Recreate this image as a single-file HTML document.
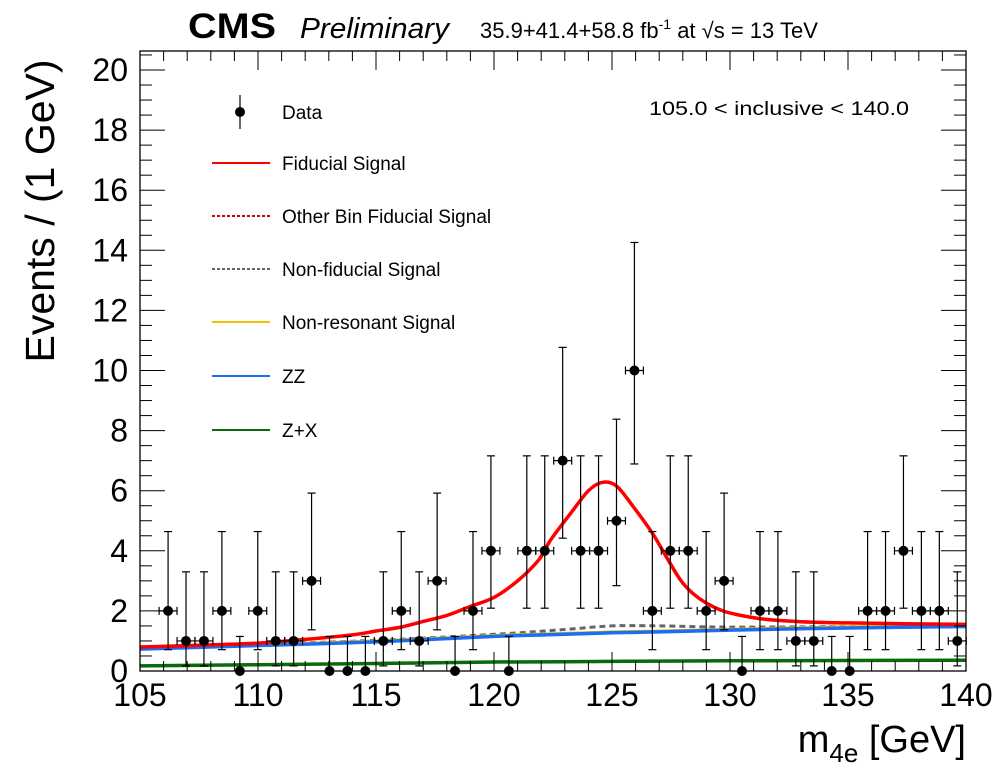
<!DOCTYPE html>
<html><head><meta charset="utf-8"><style>
body{margin:0;background:#fff}
svg{display:block;font-family:"Liberation Sans",sans-serif}
</style></head><body>
<svg id="chart" width="996" height="772" viewBox="0 0 996 772">
<g id="curves"></g>
<g id="dataG"></g>
<rect x="140" y="51" width="826" height="620" fill="none" stroke="#000" stroke-width="1.3"/>
<g id="ticks"></g>
<text x="188" y="38" font-size="35" font-weight="bold" textLength="88" lengthAdjust="spacingAndGlyphs">CMS</text>
<text x="300" y="38" font-size="29" font-style="italic" textLength="149" lengthAdjust="spacingAndGlyphs">Preliminary</text>
<text x="480" y="38" font-size="22">35.9+41.4+58.8 fb<tspan dy="-9" font-size="14">-1</tspan><tspan dy="9"> at √s = 13 TeV</tspan></text>
<text x="909" y="115" font-size="19" text-anchor="end" textLength="260" lengthAdjust="spacingAndGlyphs">105.0  &lt; inclusive &lt; 140.0</text>
<text transform="translate(54,211) rotate(-90)" font-size="41" text-anchor="middle">Events / (1 GeV)</text>
<text x="966" y="752" font-size="38" text-anchor="end">m<tspan font-size="26" dy="10">4e</tspan><tspan dy="-10"> [GeV]</tspan></text>
<g id="legend"></g>
</svg>
<script>
const massPoints=[106.19,106.95,107.71,108.47,109.23,109.99,110.75,111.51,112.27,113.03,113.79,114.55,115.31,116.07,116.83,117.59,118.35,119.11,119.87,120.63,121.39,122.15,122.91,123.67,124.43,125.19,125.95,126.71,127.47,128.23,128.99,129.75,130.51,131.27,132.03,132.79,133.55,134.31,135.07,135.83,136.59,137.35,138.11,138.87,139.63];
const counts=[2,1,1,2,0,2,1,1,3,0,0,0,1,2,1,3,0,2,4,0,4,4,7,4,4,5,10,2,4,4,2,3,0,2,2,1,1,0,0,2,2,4,2,2,1];
const redX=[105,108,110,112,114,115,116,117,118,119,120,121,121.9,122.4,123.3,124,124.6,125.2,125.9,126.7,127.3,127.9,128.4,129,129.7,130.4,131.5,133,135,140];
const redY=[0.8,0.87,0.93,1.05,1.2,1.33,1.45,1.65,1.85,2.15,2.45,3.0,3.7,4.36,5.3,6.0,6.28,6.15,5.47,4.6,3.8,3.03,2.6,2.26,2.0,1.86,1.72,1.64,1.6,1.55];
const bgX=[105,110,115,120,123,125,127,130,135,140];
const zzY=[0.73,0.85,0.97,1.15,1.22,1.27,1.3,1.36,1.43,1.48];
const nonresY=[0.76,0.88,1.0,1.18,1.25,1.3,1.33,1.39,1.47,1.52];
const nonfidY=[0.76,0.89,1.02,1.22,1.38,1.5,1.5,1.46,1.48,1.52];
const zxY=[0.17,0.21,0.25,0.3,0.31,0.32,0.33,0.34,0.35,0.36];
const xTicks=[105,110,115,120,125,130,135,140];
const yTicks=[0,2,4,6,8,10,12,14,16,18,20];
const NS='http://www.w3.org/2000/svg';
const X=v=>140+(v-105)*826/35;
const Y=v=>671-v*30.05;
function mk(t,a,p){const e=document.createElementNS(NS,t);for(const k in a)e.setAttribute(k,a[k]);p.appendChild(e);return e;}
const cg=document.getElementById('curves');
function curve(xs,ys,col,w,dash,name){
const P=xs.map((x,i)=>[X(x),Y(ys[i])]);
let d='M'+P[0][0].toFixed(1)+','+P[0][1].toFixed(1);
for(let i=0;i<P.length-1;i++){const p0=P[Math.max(0,i-1)],p1=P[i],p2=P[i+1],p3=P[Math.min(P.length-1,i+2)];
const c1=[p1[0]+(p2[0]-p0[0])/6,p1[1]+(p2[1]-p0[1])/6],c2=[p2[0]-(p3[0]-p1[0])/6,p2[1]-(p3[1]-p1[1])/6];
d+='C'+c1.map(v=>v.toFixed(1))+' '+c2.map(v=>v.toFixed(1))+' '+p2.map(v=>v.toFixed(1));}
const p=mk('path',{d:d,fill:'none',stroke:col,'stroke-width':w},cg);if(dash)p.setAttribute('stroke-dasharray',dash);

}
curve(bgX,zxY,'#0a6b0a',3.5,null,'zx-curve');
curve(bgX,nonfidY,'#666',3,'6,4','nonfiducial-curve');
curve(bgX,nonresY,'#f5c000',3,null,'nonresonant-curve');
curve(bgX,zzY,'#1a6ef5',3.5,null,'zz-curve');
curve(redX,redY,'#f00',3.5,null,'fiducial-signal-curve');
const lo={0:0,1:0.83,2:1.29,3:1.63,4:1.91,5:2.16,7:2.58,10:3.11};
const hi={0:1.15,1:2.3,2:2.64,3:2.92,4:3.16,5:3.38,7:3.77,10:4.26};
const dg=document.getElementById('dataG');
massPoints.forEach((m,i)=>{const n=counts[i];const g=mk('g',{},dg);


const x=X(m);
mk('line',{x1:x,x2:x,y1:Y(n-lo[n]),y2:Y(n+hi[n]),stroke:'#000','stroke-width':1.2},g);
mk('line',{x1:x-4,x2:x+4,y1:Y(n+hi[n]),y2:Y(n+hi[n]),stroke:'#000','stroke-width':1.2},g);
if(n>0){mk('line',{x1:x-4,x2:x+4,y1:Y(n-lo[n]),y2:Y(n-lo[n]),stroke:'#000','stroke-width':1.2},g);
mk('line',{x1:X(m-0.38),x2:X(m+0.38),y1:Y(n),y2:Y(n),stroke:'#000','stroke-width':1.2},g);
[m-0.38,m+0.38].forEach(e=>mk('line',{x1:X(e),x2:X(e),y1:Y(n)-4,y2:Y(n)+4,stroke:'#000','stroke-width':1.2},g));}
mk('circle',{cx:x,cy:Y(n),r:5,fill:'#000'},g);});
const tg=document.getElementById('ticks');
for(let v=105;v<=140;v++){const x=X(v),L=v%5==0?19:10;
mk('line',{x1:x,x2:x,y1:671,y2:671-L,stroke:'#000'},tg);mk('line',{x1:x,x2:x,y1:51,y2:51+L,stroke:'#000'},tg);}
for(let v=0;v<=20.5;v+=0.5){const y=Y(v),L=v%2==0?25:12;
mk('line',{x1:140,x2:140+L,y1:y,y2:y,stroke:'#000'},tg);mk('line',{x1:966,x2:966-L,y1:y,y2:y,stroke:'#000'},tg);}
xTicks.forEach(v=>{const t=mk('text',{x:X(v),y:706,'font-size':32,'text-anchor':'middle'},tg);t.textContent=v;

});
yTicks.forEach(v=>{const t=mk('text',{x:128,y:Y(v)+11,'font-size':32,'text-anchor':'end'},tg);t.textContent=v;

});
const lg=document.getElementById('legend');
const items=[['Data',null,null,112],['Fiducial Signal','#f00',null,163],['Other Bin Fiducial Signal','#c00','3,2',216],['Non-fiducial Signal','#666','3,2',269],['Non-resonant Signal','#f5c000',null,322],['ZZ','#1a6ef5',null,376],['Z+X','#0a6b0a',null,430]];
items.forEach(it=>{const g=mk('g',{},lg);


const y=it[3];
if(!it[1]){mk('line',{x1:240,x2:240,y1:y-17,y2:y+17,stroke:'#000','stroke-width':1.2},g);mk('circle',{cx:240,cy:y,r:5,fill:'#000'},g);}
else{const l=mk('line',{x1:212,x2:270,y1:y,y2:y,stroke:it[1],'stroke-width':2},g);if(it[2])l.setAttribute('stroke-dasharray',it[2]);}
const t=mk('text',{x:282,y:y+7,'font-size':19},g);t.textContent=it[0];});
</script>
</body></html>
